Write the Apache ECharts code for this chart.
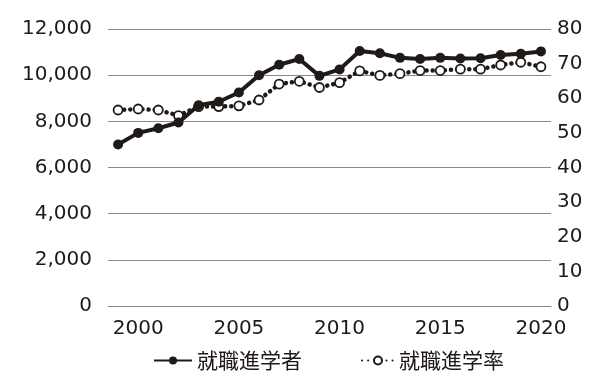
<!DOCTYPE html>
<html><head><meta charset="utf-8">
<script src="https://cdn.jsdelivr.net/npm/echarts@6/dist/echarts.min.js"></script>
<style>html,body{margin:0;padding:0;background:#fff}#c{width:606px;height:380px}</style>
</head><body><div id="c"></div>
<script>
const years = ['1999','2000','2001','2002','2003','2004','2005','2006','2007','2008','2009','2010','2011','2012','2013','2014','2015','2016','2017','2018','2019','2020'];
const persons = [7000,7500,7700,7950,8700,8850,9250,10000,10450,10700,9970,10250,11050,10950,10750,10700,10750,10720,10730,10870,10930,11030];
const rates = [56.6,56.9,56.6,55.0,57.6,57.6,57.8,59.5,64.1,64.9,63.1,64.5,67.9,66.6,67.1,68.0,68.0,68.4,68.4,69.6,70.4,69.1];
const leftTicks = [0,2000,4000,6000,8000,10000,12000];
const rightTicks = [0,10,20,30,40,50,60,70,80];
const shownYears = ['2000','2005','2010','2015','2020'];

const ink = '#1f1a17';
const numFont = 'DejaVu Sans';
const chart = echarts.init(document.getElementById('c'));
chart.setOption({
  animation: false,
  backgroundColor: '#fff',
  grid: {left: 108, right: 55, top: 29, bottom: 74},
  legend: [{
    left: 148, top: 345, itemWidth: 38, itemHeight: 10,
    textStyle: {fontFamily: 'Noto Sans CJK JP', fontSize: 21, color: ink},
    data: ['就職進学者']
  }, {
    left: 356, top: 345, itemWidth: 32, itemHeight: 10,
    textStyle: {fontFamily: 'Noto Sans CJK JP', fontSize: 21, color: ink},
    data: ['就職進学率']
  }],
  xAxis: {
    type: 'category', data: years, boundaryGap: true,
    axisLine: {show: true, lineStyle: {color: '#888', width: 1}},
    axisTick: {show: false},
    axisLabel: {
      interval: (i, v) => shownYears.indexOf(v) >= 0,
      margin: 13, fontFamily: numFont, fontSize: 20, color: ink
    }
  },
  yAxis: [{
    type: 'value', min: leftTicks[0], max: leftTicks[leftTicks.length-1], interval: leftTicks[1]-leftTicks[0],
    axisLine: {show: false}, axisTick: {show: false},
    splitLine: {show: true, lineStyle: {color: '#888', width: 1}},
    axisLabel: {margin: 16, fontFamily: numFont, fontSize: 20, color: ink,
      padding: [0,0,9,0],
      formatter: v => v.toLocaleString('en-US')}
  }, {
    type: 'value', min: rightTicks[0], max: rightTicks[rightTicks.length-1], interval: rightTicks[1]-rightTicks[0],
    axisLine: {show: false}, axisTick: {show: false}, splitLine: {show: false},
    axisLabel: {margin: 6, fontFamily: numFont, fontSize: 20, color: ink, padding: [0,0,9,0]}
  }],
  series: [{
    name: '就職進学率', type: 'line', yAxisIndex: 1, data: rates,
    symbol: 'circle', symbolSize: 9, z: 2,
    itemStyle: {color: '#fff', borderColor: ink, borderWidth: 1.8},
    lineStyle: {color: ink, width: 4.5, type: [0.1, 6], cap: 'round'}
  }, {
    name: '就職進学者', type: 'line', yAxisIndex: 0, data: persons,
    symbol: 'circle', symbolSize: 10, z: 3,
    itemStyle: {color: ink, borderColor: ink, borderWidth: 0},
    lineStyle: {color: ink, width: 4}
  }]
});
</script></body></html>
